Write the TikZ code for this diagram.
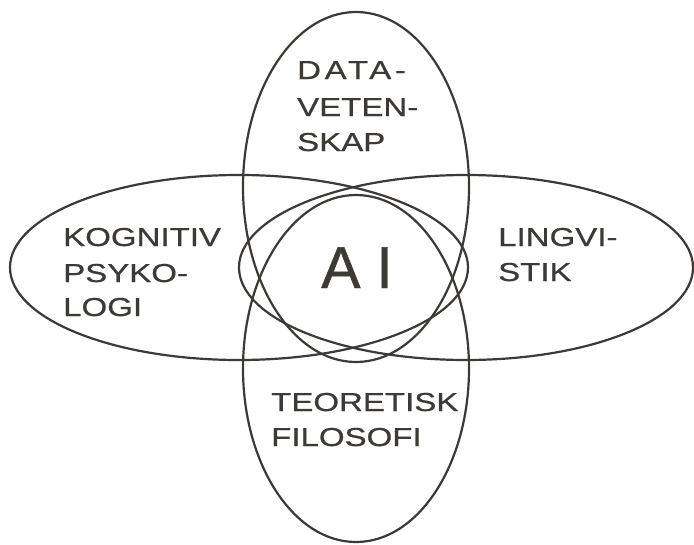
\documentclass[tikz,border=0pt]{standalone}
\usepackage{fontspec}
\setmainfont{Liberation Sans}
\newfontfamily\labelfont[FakeStretch=1.27,FakeBold=0.6]{Liberation Sans}
\newfontfamily\spacedfont[FakeStretch=1.27,FakeBold=0.6,LetterSpace=14]{Liberation Sans}
\newfontfamily\bigfont[FakeBold=0.8]{Liberation Sans}
\usetikzlibrary{shapes.geometric}
\definecolor{ink}{HTML}{3D3935}
\begin{document}
\begin{tikzpicture}[x=1pt,y=-1pt,
  ring/.style n args={2}{draw=ink,line width=2.2pt,ellipse,inner sep=0pt,outer sep=0pt,minimum width=#1,minimum height=#2},
  lbl/.style={anchor=base west,inner sep=0pt,text=ink,font=\labelfont\fontsize{26}{26}\selectfont}]
\fill[white] (0,0) rectangle (694,544);
\useasboundingbox (0,0) rectangle (694,544);
% ellipses
\node[ring={226pt}{350pt}] (topring) at (356,187) {};
\node[ring={226pt}{347pt}] (botring) at (356,368.5) {};
\node[ring={458pt}{185pt}] (leftring) at (239,267.5) {};
\node[ring={454pt}{185pt}] (rightring) at (466,267.5) {};
% labels
\node[lbl,font=\spacedfont\fontsize{26}{26}\selectfont] (cs1) at (297,79) {DATA-};
\node[lbl] (cs2) at (297,116) {VETEN-};
\node[lbl] (cs3) at (297,151) {SKAP};
\node[lbl] (kp1) at (63,246) {KOGNITIV};
\node[lbl] (kp2) at (63,282) {PSYKO-};
\node[lbl] (kp3) at (63,316) {LOGI};
\node[lbl] (li1) at (498,246) {LINGVI-};
\node[lbl] (li2) at (498,281) {STIK};
\node[lbl] (tf1) at (271,411) {TEORETISK};
\node[lbl] (tf2) at (271,446) {FILOSOFI};
\node[anchor=base west,inner sep=0pt,text=ink,font=\bigfont\fontsize{59}{59}\selectfont] (ai) at (321,288) {A\hspace{16pt}I};
\end{tikzpicture}
\end{document}
